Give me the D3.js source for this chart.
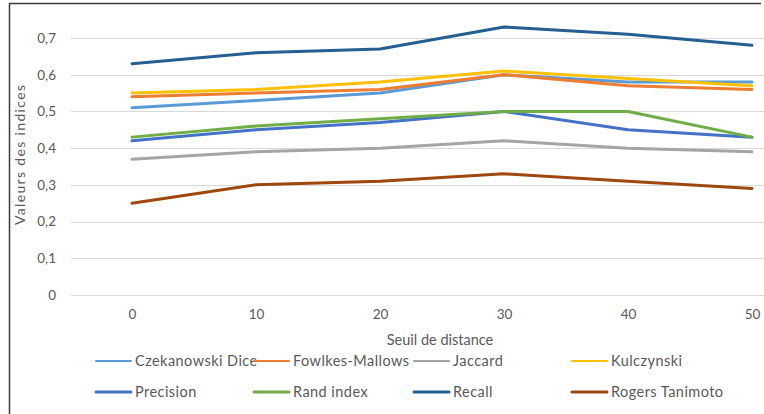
<!DOCTYPE html>
<html>
<head>
<meta charset="utf-8">
<script src="https://cdn.jsdelivr.net/npm/d3@7"></script>
<style>
  html, body { margin: 0; padding: 0; background: #fff; }
  svg { display: block; }
  text { font-family: Lato, "Open Sans", sans-serif; fill: #595959; }
</style>
</head>
<body>
<svg id="chart" width="764" height="414"></svg>
<script>
// Distance thresholds (x categories)
const seuils = ["0", "10", "20", "30", "40", "50"];
const yTicks = [0, 0.1, 0.2, 0.3, 0.4, 0.5, 0.6, 0.7];

// Index values per threshold
const czekanowskiDice = [0.51, 0.53, 0.55, 0.60, 0.58, 0.58];
const fowlkesMallows  = [0.54, 0.55, 0.56, 0.60, 0.57, 0.56];
const jaccard         = [0.37, 0.39, 0.40, 0.42, 0.40, 0.39];
const kulczynski      = [0.55, 0.56, 0.58, 0.61, 0.59, 0.57];
const precision       = [0.42, 0.45, 0.47, 0.50, 0.45, 0.43];
const randIndex       = [0.43, 0.46, 0.48, 0.50, 0.50, 0.43];
const recall          = [0.63, 0.66, 0.67, 0.73, 0.71, 0.68];
const rogersTanimoto  = [0.25, 0.30, 0.31, 0.33, 0.31, 0.29];

const seriesNames = ["Czekanowski Dice", "Fowlkes-Mallows", "Jaccard", "Kulczynski",
                     "Precision", "Rand index", "Recall", "Rogers Tanimoto"];
const seriesValues = [czekanowskiDice, fowlkesMallows, jaccard, kulczynski,
                      precision, randIndex, recall, rogersTanimoto];
const colors = ["#5B9BD5", "#ED7D31", "#A5A5A5", "#FFC000",
                "#4472C4", "#70AD47", "#255E91", "#9E480E"];

const svg = d3.select("#chart");

// Chart frame
svg.append("line").attr("x1", 9.5).attr("x2", 9.5).attr("y1", 3).attr("y2", 414)
  .attr("stroke", "#3a3a3a").attr("stroke-width", 1.5);
svg.append("line").attr("x1", 9).attr("x2", 761).attr("y1", 3.5).attr("y2", 3.5)
  .attr("stroke", "#3a3a3a").attr("stroke-width", 1.5);

const x = d3.scalePoint().domain(seuils).range([70, 814]).padding(0.5);
const y = d3.scaleLinear().domain([0, 0.7]).range([295, 38]);

// Horizontal gridlines
svg.append("g").selectAll("line").data(yTicks).join("line")
  .attr("x1", 71).attr("x2", 764)
  .attr("y1", d => Math.round(y(d)) + 0.5).attr("y2", d => Math.round(y(d)) + 0.5)
  .attr("stroke", "#D9D9D9").attr("stroke-width", 1);

// Y axis labels
const fmt = v => d3.format(".1~f")(v).replace(".", ",");
const yAxis = svg.append("g").attr("transform", "translate(56,0)")
  .call(d3.axisLeft(y).tickValues(yTicks).tickFormat(fmt).tickSize(0).tickPadding(0));
yAxis.select(".domain").remove();
yAxis.selectAll("text").attr("font-size", 13.5).attr("fill", "#595959")
  .style("font-family", "Lato, 'Open Sans', sans-serif");

// X axis labels
const xAxis = svg.append("g").attr("transform", "translate(0,309)")
  .call(d3.axisBottom(x).tickSize(0).tickPadding(0));
xAxis.select(".domain").remove();
xAxis.selectAll("text").attr("font-size", 13.5).attr("fill", "#595959")
  .style("font-family", "Lato, 'Open Sans', sans-serif");

// Axis titles
svg.append("text").attr("x", 440).attr("y", 345).attr("text-anchor", "middle")
  .attr("font-size", 14.5).text("Seuil de distance");
svg.append("text").attr("transform", "translate(25,155) rotate(-90)")
  .attr("text-anchor", "middle").attr("font-size", 14)
  .attr("textLength", 140).attr("lengthAdjust", "spacing")
  .text("Valeurs des indices");

// Series lines
const line = d3.line().x((d, i) => x(seuils[i])).y(d => y(d));
svg.append("g").selectAll("path").data(seriesValues).join("path")
  .attr("d", line).attr("fill", "none")
  .attr("stroke", (d, i) => colors[i]).attr("stroke-width", 3)
  .attr("stroke-linejoin", "round").attr("stroke-linecap", "round");

// Legend: two rows of four entries
const legend = svg.append("g");
const colX = [96, 254, 414, 572];
const rowY = [361, 392];
seriesNames.forEach((name, i) => {
  const cx = colX[i % 4], cy = rowY[Math.floor(i / 4)];
  legend.append("line").attr("x1", cx).attr("x2", cx + 35).attr("y1", cy).attr("y2", cy)
    .attr("stroke", colors[i]).attr("stroke-width", i < 4 ? 2 : 3)
    .attr("stroke-linecap", "round");
  legend.append("text").attr("x", cx + 39).attr("y", cy + 5)
    .attr("font-size", 14.5).attr("letter-spacing", 0.45).text(name);
});
</script>
</body>
</html>
